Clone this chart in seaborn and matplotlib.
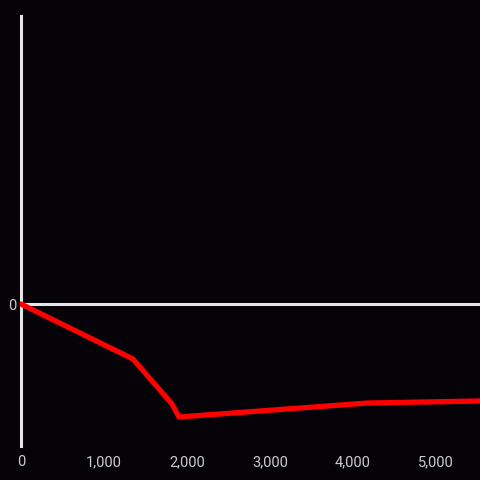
import numpy as np
import pandas as pd
import seaborn as sns
from matplotlib import pyplot as plt
from matplotlib.ticker import FuncFormatter

# values
xs = [0, 1349, 1819, 1904, 4181, 5530]
ys = [0, -55, -100, -113, -99, -97]
x_ticks = [0, 1000, 2000, 3000, 4000, 5000]

df = pd.DataFrame({'x': xs, 'y': ys})

bg = '#050307'
sns.set_theme(style='dark', rc={'axes.facecolor': bg, 'figure.facecolor': bg})
plt.rcParams['font.family'] = ['Roboto', 'DejaVu Sans']

fig = plt.figure(figsize=(4.8, 4.8), dpi=100)
ax = fig.add_axes([20 / 480, 32 / 480, 460 / 480, 432 / 480])

ax.axhline(0, color='#e6e6e6', lw=2.2, zorder=1)
sns.lineplot(data=df, x='x', y='y', ax=ax, color='#ff0000', lw=3.8, zorder=3)

ax.set_xlim(-12, 5530)
ax.set_ylim(-144, 288)
ax.set_xticks(x_ticks)
ax.set_yticks([0])
ax.xaxis.set_major_formatter(FuncFormatter(lambda v, p: f'{int(v):,}'))
ax.tick_params(axis='both', colors='#cccccc', labelsize=10.5, length=0, pad=5)
ax.tick_params(axis='y', pad=3)
ax.set_xlabel('')
ax.set_ylabel('')

for side in ['top', 'right', 'bottom']:
    ax.spines[side].set_visible(False)
ax.spines['left'].set_color('#e6e6e6')
ax.spines['left'].set_linewidth(2.2)
ax.spines['left'].set_position(('data', 0))
ax.spines['left'].set_bounds(-142, 288)

fig.savefig('out.png', dpi=100, facecolor=bg)
